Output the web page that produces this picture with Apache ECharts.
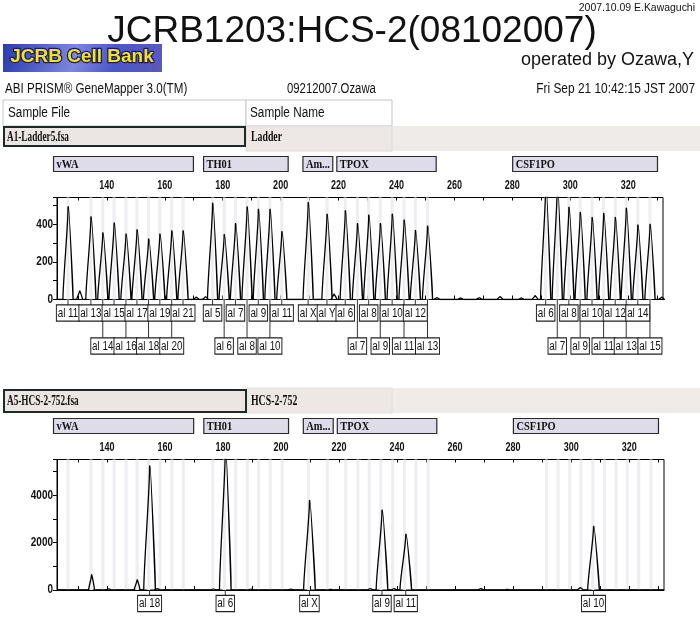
<!DOCTYPE html>
<html>
<head>
<meta charset="utf-8">
<script src="https://cdn.jsdelivr.net/npm/echarts@6/dist/echarts.min.js"></script>
<style>
  html, body { margin: 0; padding: 0; background: #fff; }
  #chart { width: 700px; height: 620px; }
</style>
</head>
<body>
<div id="chart"></div>
<script>
// ---- Size range of the electropherogram (bp) ----
const sizeMin = 122.8;
const sizeMax = 332.0;
const sizeTicks = [130, 140, 150, 160, 170, 180, 190, 200, 210, 220, 230, 240, 250, 260, 270, 280, 290, 300, 310, 320, 330];
const sizeLabels = [140, 160, 180, 200, 220, 240, 260, 280, 300, 320];

// ---- Loci (bin ranges, bp) ----
const lociNames = ['vWA', 'TH01', 'Am...', 'TPOX', 'CSF1PO'];
const lociStart = [121.6, 173.4, 207.7, 219.4, 280.1];
const lociEnd = [169.9, 202.6, 218.0, 253.7, 330.1];

// ---- Allelic ladder (A1-Ladder5.fsa) ----
const ladderSizes = [126.6, 134.5, 138.6, 142.5, 146.6, 150.4, 154.4, 158.3, 162.4, 166.3,
  176.5, 180.5, 184.4, 188.4, 192.3, 196.3, 200.4,
  209.5, 216.0,
  222.3, 226.5, 230.4, 234.4, 238.5, 242.6, 246.5, 250.7,
  291.5, 295.5, 299.5, 303.4, 307.5, 311.5, 315.5, 319.3, 323.3, 327.5];
const ladderHeights = [483, 430, 347, 398, 341, 363, 315, 341, 357, 357,
  501, 338, 395, 482, 469, 469, 354,
  505, 444,
  462, 395, 439, 395, 444, 414, 359, 382,
  600, 600, 480, 453, 427, 448, 427, 475, 388, 391];
const ladderAlleles = ['al 11', 'al 13', 'al 14', 'al 15', 'al 16', 'al 17', 'al 18', 'al 19', 'al 20', 'al 21',
  'al 5', 'al 6', 'al 7', 'al 8', 'al 9', 'al 10', 'al 11',
  'al X', 'al Y',
  'al 6', 'al 7', 'al 8', 'al 9', 'al 10', 'al 11', 'al 12', 'al 13',
  'al 6', 'al 7', 'al 8', 'al 9', 'al 10', 'al 11', 'al 12', 'al 13', 'al 14', 'al 15'];
const ladderRows = [1, 1, 2, 1, 2, 1, 2, 1, 2, 1,
  1, 2, 1, 2, 1, 2, 1,
  1, 1,
  1, 2, 1, 2, 1, 2, 1, 2,
  1, 2, 1, 2, 1, 2, 1, 2, 1, 2];
// minor baseline bumps in the ladder trace
const ladderNoiseSizes = [130.6, 170.8, 174.0, 218.4, 253.9, 262.0, 268.5, 275.7, 283.0, 287.8, 331.5];
const ladderNoiseHeights = [45, 12, 14, 28, 10, 8, 9, 15, 8, 20, 12];

// ---- Sample (A5-HCS-2-752.fsa) ----
const sampleSizes = [134.7, 140.6, 150.4, 154.7, 157.3, 176.6, 180.8, 189.5, 203.3, 209.8,
  217.1, 230.7, 234.8, 238.9, 243.0, 268.8, 278.0, 303.1, 307.7];
const sampleHeights = [632, 50, 421, 5123, 60, 40, 5900, 40, 40, 3691,
  30, 60, 3298, 60, 2302, 60, 30, 100, 2625];
const sampleCallSizes = [154.7, 180.8, 209.8, 234.8, 243.0, 307.7];
const sampleCallAlleles = ['al 18', 'al 6', 'al X', 'al 9', 'al 11', 'al 10'];

// ---- Intensity axes ----
const ladderYMax = 542;
const ladderYLabels = [0, 200, 400];
const sampleYMax = 5500;
const sampleYLabels = [0, 2000, 4000];

// ---------------------------------------------------------------
const SANS = "'Liberation Sans', Arial, sans-serif";
const SERIF = "'Liberation Serif', 'Times New Roman', serif";

// peaks drawn as spikes between baseline points
function buildTrace(sizes, heights, wide, narrow, cut) {
  const order = sizes.map((s, i) => i).sort((a, b) => sizes[a] - sizes[b]);
  const pts = [[sizeMin, 0]];
  order.forEach(i => {
    const w = heights[i] < cut ? narrow : wide;
    pts.push([sizes[i] - w, 0], [sizes[i], heights[i]], [sizes[i] + w, 0]);
  });
  pts.push([sizeMax, 0]);
  return pts;
}

const ladderTrace = buildTrace(ladderSizes.concat(ladderNoiseSizes),
  ladderHeights.concat(ladderNoiseHeights), 1.75, 1.0, 100);
const sampleTrace = buildTrace(sampleSizes, sampleHeights, 2.0, 1.0, 1000);

function binSeries(xi, yi) {
  return {
    type: 'custom', xAxisIndex: xi, yAxisIndex: yi, z: 1, silent: true,
    data: ladderSizes.map(s => [s]),
    renderItem(params, api) {
      const cs = params.coordSys;
      const p = api.coord([api.value(0), 0]);
      return { type: 'rect', shape: { x: p[0] - 1.5, y: cs.y, width: 3, height: cs.height },
        style: { fill: '#ededf2' } };
    }
  };
}

function lociSeries(xi, yi) {
  return {
    type: 'custom', xAxisIndex: xi, yAxisIndex: yi, z: 5, silent: true, clip: false,
    data: lociStart.map((s, i) => [s, lociEnd[i]]),
    renderItem(params, api) {
      const cs = params.coordSys;
      const a = api.coord([api.value(0), 0]);
      const b = api.coord([api.value(1), 0]);
      const top = cs.y - 41;
      return { type: 'group', children: [
        { type: 'rect', shape: { x: a[0], y: top, width: b[0] - a[0], height: 15 },
          style: { fill: '#dddce8', stroke: '#2a2a2a', lineWidth: 1.2 } },
        { type: 'text', x: a[0] + 3, y: top + 8, scaleX: 0.8,
          style: { text: lociNames[params.dataIndex], fill: '#111', font: 'bold 13px ' + SERIF,
            align: 'left', verticalAlign: 'middle' } }
      ] };
    }
  };
}

function alleleSeries(xi, yi, sizes, names, rows) {
  return {
    type: 'custom', xAxisIndex: xi, yAxisIndex: yi, z: 6, silent: true, clip: false,
    data: sizes.map((s, i) => [s, rows[i]]),
    renderItem(params, api) {
      const p = api.coord([api.value(0), 0]);
      const top = p[1] + (api.value(1) === 1 ? 6 : 39);
      return { type: 'group', children: [
        { type: 'line', shape: { x1: p[0], y1: p[1], x2: p[0], y2: top },
          style: { stroke: '#333', lineWidth: 1 } },
        { type: 'text', x: p[0], y: top, scaleX: 0.82,
          style: { text: names[params.dataIndex], fill: '#111', font: '12px ' + SANS,
            align: 'center', verticalAlign: 'top', backgroundColor: '#fff',
            borderColor: '#222', borderWidth: 1.2, padding: [2, 1, 1, 1] } }
      ] };
    }
  };
}

// bp labels above the plot
function sizeLabelSeries(xi, yi) {
  return {
    type: 'custom', xAxisIndex: xi, yAxisIndex: yi, z: 6, silent: true, clip: false,
    data: sizeLabels.map(v => [v]),
    renderItem(params, api) {
      const cs = params.coordSys;
      const p = api.coord([api.value(0), 0]);
      return { type: 'text', x: p[0], y: cs.y - 6, scaleX: 0.75,
        style: { text: String(api.value(0)), fill: '#111', font: 'bold 12px ' + SANS,
          align: 'center', verticalAlign: 'bottom' } };
    }
  };
}
// intensity labels left of the plot
function intensityLabelSeries(xi, yi, labels) {
  return {
    type: 'custom', xAxisIndex: xi, yAxisIndex: yi, z: 6, silent: true, clip: false,
    data: labels.map(v => [sizeMin, v]),
    renderItem(params, api) {
      const cs = params.coordSys;
      const p = api.coord([api.value(0), api.value(1)]);
      return { type: 'text', x: cs.x - 4, y: p[1], scaleX: 0.8,
        style: { text: String(api.value(1)), fill: '#111', font: 'bold 12.5px ' + SANS,
          align: 'right', verticalAlign: 'middle' } };
    }
  };
}

function mainXAxis(gi) {
  return {
    type: 'value', gridIndex: gi, position: 'top', min: sizeMin, max: sizeMax,
    axisLine: { show: true, lineStyle: { color: '#000', width: 1 } },
    axisTick: { show: true, length: 4, customValues: sizeTicks, lineStyle: { color: '#000' } },
    axisLabel: { show: false },
    splitLine: { show: false }
  };
}
function innerXAxis(gi) {
  return {
    type: 'value', gridIndex: gi, position: 'top', min: sizeMin, max: sizeMax,
    axisLine: { show: false },
    axisTick: { show: true, inside: true, length: 3, customValues: sizeTicks, lineStyle: { color: '#000' } },
    axisLabel: { show: false }, splitLine: { show: false }
  };
}
function yAxisDef(gi, max, interval) {
  return {
    type: 'value', gridIndex: gi, min: 0, max: max, interval: interval,
    axisLine: { show: true, lineStyle: { color: '#000' } },
    axisTick: { show: true, length: 4, lineStyle: { color: '#000' } },
    axisLabel: { show: false },
    splitLine: { show: false }
  };
}

function txt(x, y, text, font, align, sx) {
  return { type: 'text', x: x, y: y, scaleX: sx || 1,
    style: { text: text, font: font, fill: '#111', align: align || 'left', verticalAlign: 'middle' } };
}

const chart = echarts.init(document.getElementById('chart'), null, { renderer: 'canvas' });

const headerGraphics = [
  txt(695, 8, '2007.10.09 E.Kawaguchi', '11px ' + SANS, 'right', 0.95),
  txt(352, 32, 'JCRB1203:HCS-2(08102007)', '37px ' + SANS, 'center'),
  txt(694, 60, 'operated by Ozawa,Y', '18px ' + SANS, 'right'),
  { type: 'rect', shape: { x: 3, y: 44, width: 159, height: 28 },
    style: { fill: new echarts.graphic.LinearGradient(0, 0, 1, 1, [
      { offset: 0, color: '#2c3cb0' }, { offset: 0.45, color: '#7d86e0' }, { offset: 0.7, color: '#4a56c8' }, { offset: 1, color: '#5a5ab8' }]) } },
  { type: 'text', x: 82, y: 57, style: { text: 'JCRB Cell Bank', font: 'bold 19px ' + SANS, fill: '#f2e22a', stroke: '#1c1c55', lineWidth: 2.5, align: 'center', verticalAlign: 'middle' } },
  txt(5, 89, 'ABI PRISM® GeneMapper 3.0(TM)', '14px ' + SANS, 'left', 0.83),
  txt(287, 89, '09212007.Ozawa', '14px ' + SANS, 'left', 0.81),
  txt(695, 89, 'Fri Sep 21 10:42:15 JST 2007', '14px ' + SANS, 'right', 0.85),

  // sample table, ladder
  { type: 'rect', shape: { x: 3, y: 100, width: 243, height: 26 }, style: { fill: '#fff', stroke: '#c4c4c4', lineWidth: 1 } },
  { type: 'rect', shape: { x: 246, y: 100, width: 146, height: 26 }, style: { fill: '#fff', stroke: '#c4c4c4', lineWidth: 1 } },
  txt(8, 113, 'Sample File', '14px ' + SANS, 'left', 0.84),
  txt(250, 113, 'Sample Name', '14px ' + SANS, 'left', 0.84),
  { type: 'rect', shape: { x: 246, y: 126, width: 454, height: 25 }, style: { fill: '#efebe9' } },
  { type: 'rect', shape: { x: 246, y: 126, width: 146, height: 25 }, style: { fill: '#ede8e6', stroke: '#dcdcdc', lineWidth: 1 } },
  { type: 'rect', shape: { x: 4, y: 127, width: 241, height: 19 }, style: { fill: '#ebe5e3', stroke: '#1e2a26', lineWidth: 2 } },
  txt(7, 137, 'A1-Ladder5.fsa', 'bold 14px ' + SERIF, 'left', 0.66),
  txt(251, 137, 'Ladder', 'bold 14px ' + SERIF, 'left', 0.7),

  // sample table, HCS-2
  { type: 'rect', shape: { x: 246, y: 388, width: 454, height: 25 }, style: { fill: '#efebe9' } },
  { type: 'rect', shape: { x: 246, y: 388, width: 146, height: 25 }, style: { fill: '#ede8e6', stroke: '#e0e0e0', lineWidth: 1 } },
  { type: 'rect', shape: { x: 4, y: 390, width: 242, height: 22 }, style: { fill: '#ebe5e3', stroke: '#1e2a26', lineWidth: 2 } },
  txt(7, 401, 'A5-HCS-2-752.fsa', 'bold 14px ' + SERIF, 'left', 0.66),
  txt(251, 401, 'HCS-2-752', 'bold 14px ' + SERIF, 'left', 0.7)
];

const traceStyle = {
  type: 'line', z: 3, showSymbol: false, symbol: 'none', silent: true, clip: true,
  smooth: 0.18, smoothMonotone: 'y',
  lineStyle: { color: '#000', width: 1.3 }
};

chart.setOption({
  animation: false,
  backgroundColor: '#fff',
  graphic: headerGraphics,
  grid: [
    { left: 57, top: 197.5, width: 606, height: 102, show: true, borderColor: '#000', borderWidth: 1, backgroundColor: 'transparent' },
    { left: 57, top: 459.5, width: 607, height: 130.5, show: true, borderColor: '#000', borderWidth: 1, backgroundColor: 'transparent' }
  ],
  xAxis: [mainXAxis(0), innerXAxis(0), mainXAxis(1), innerXAxis(1)],
  yAxis: [
    yAxisDef(0, ladderYMax, 100),
    yAxisDef(1, sampleYMax, 1000)
  ],
  series: [
    binSeries(0, 0),
    binSeries(2, 1),
    Object.assign({}, traceStyle, { xAxisIndex: 0, yAxisIndex: 0, data: ladderTrace }),
    Object.assign({}, traceStyle, { xAxisIndex: 2, yAxisIndex: 1, data: sampleTrace }),
    lociSeries(0, 0),
    lociSeries(2, 1),
    alleleSeries(0, 0, ladderSizes, ladderAlleles, ladderRows),
    alleleSeries(2, 1, sampleCallSizes, sampleCallAlleles, sampleCallSizes.map(() => 1)),
    sizeLabelSeries(0, 0),
    sizeLabelSeries(2, 1),
    intensityLabelSeries(0, 0, ladderYLabels),
    intensityLabelSeries(2, 1, sampleYLabels)
  ]
});
</script>
</body>
</html>
